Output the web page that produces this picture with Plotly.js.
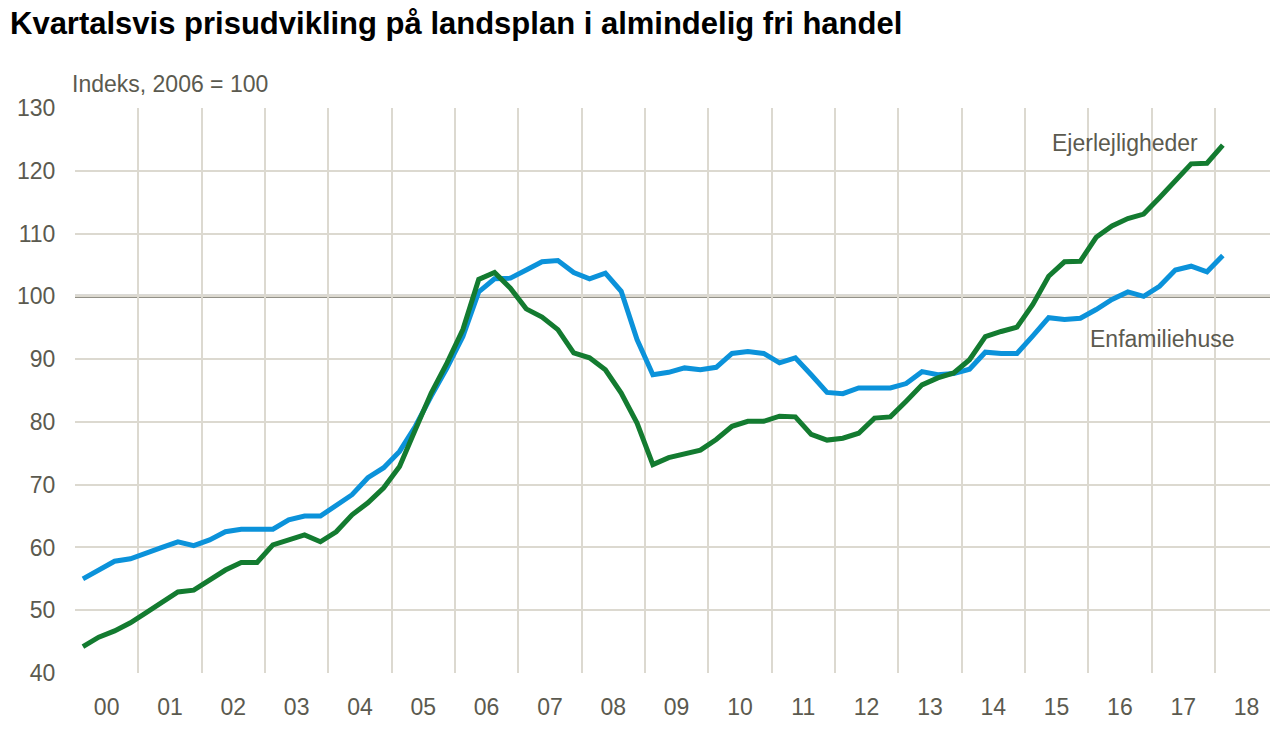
<!DOCTYPE html>
<html>
<head>
<meta charset="utf-8">
<script src="https://cdn.plot.ly/plotly-3.0.1.min.js"></script>
<style>
html,body{margin:0;padding:0;background:#fff;}
#chart{width:1270px;height:733px;}
</style>
</head>
<body>
<div id="chart"></div>
<script>
// Quarterly periods 2000Q1 .. 2018Q1
const years = [2000,2001,2002,2003,2004,2005,2006,2007,2008,2009,2010,2011,2012,2013,2014,2015,2016,2017,2018];
const yearLabels = ["00","01","02","03","04","05","06","07","08","09","10","11","12","13","14","15","16","17","18"];
const quartersPerYear = [1,2,3,4];

// Enfamiliehuse (index 2006 = 100)
const enfamiliehuse = [
  55.0, 56.5, 57.8, 58.2,
  59.2, 60.0, 60.9, 60.3,
  61.2, 62.5, 62.9, 62.9,
  62.9, 64.4, 65.0, 65.0,
  66.7, 68.4, 71.1, 72.7,
  75.3, 79.3, 84.1, 88.6,
  93.6, 100.7, 102.8, 102.9,
  104.2, 105.5, 105.7, 103.8,
  102.8, 103.7, 100.8, 93.1,
  87.5, 87.9, 88.6, 88.3,
  88.7, 90.9, 91.2, 90.9,
  89.4, 90.2, 87.5, 84.7,
  84.5, 85.4, 85.4, 85.4,
  86.1, 88.0, 87.5, 87.7,
  88.4, 91.1, 90.9, 90.9,
  93.7, 96.6, 96.3, 96.5,
  97.9, 99.5, 100.7, 100.0,
  101.6, 104.2, 104.8, 103.9,
  106.5
];

// Ejerlejligheder (index 2006 = 100)
const ejerlejligheder = [
  44.2, 45.7, 46.7, 48.0,
  49.6, 51.3, 52.9, 53.2,
  54.8, 56.4, 57.6, 57.6,
  60.4, 61.2, 62.0, 60.9,
  62.5, 65.2, 67.1, 69.5,
  72.9, 78.8, 84.6, 89.4,
  94.7, 102.7, 103.8, 101.3,
  98.0, 96.7, 94.7, 91.0,
  90.2, 88.3, 84.6, 79.8,
  73.2, 74.3, 74.8, 75.5,
  77.2, 79.3, 80.1, 80.1,
  80.9, 80.8, 78.0, 77.1,
  77.4, 78.2, 80.6, 80.8,
  83.3, 85.9, 87.0, 87.8,
  89.9, 93.6, 94.4, 95.1,
  98.7, 103.2, 105.5, 105.6,
  109.4, 111.2, 112.4, 113.1,
  115.7, 118.4, 121.1, 121.2,
  124.1
];

// x positions: middle of each quarter
const xq = [];
for (const y of years) {
  for (const q of quartersPerYear) {
    if (xq.length < enfamiliehuse.length) xq.push(y + (q - 0.5) / 4);
  }
}
const midYears = years.map(y => y + 0.5);

const font = '"Liberation Sans", Arial, sans-serif';
const textGray = '#5b5a4f';
const gridCol = '#dcd9d0';

const traces = [
  {x: xq, y: enfamiliehuse, type: 'scatter', mode: 'lines', name: 'Enfamiliehuse',
   line: {color: '#0b92da', width: 5}, hoverinfo: 'x+y'},
  {x: xq, y: ejerlejligheder, type: 'scatter', mode: 'lines', name: 'Ejerlejligheder',
   line: {color: '#137b30', width: 5}, hoverinfo: 'x+y'}
];

const layout = {
  width: 1270, height: 733,
  margin: {l: 75, r: 0, t: 108, b: 60},
  paper_bgcolor: '#ffffff', plot_bgcolor: '#ffffff',
  showlegend: false,
  title: {
    text: 'Kvartalsvis prisudvikling på landsplan i almindelig fri handel',
    font: {family: font, size: 31, color: '#000000', weight: 'bold'},
    xref: 'container', yref: 'container', x: 10/1270, xanchor: 'left', y: 1 - 23/733, yanchor: 'middle'
  },
  xaxis: {
    range: [2000, 2018.87],
    tickmode: 'array', tickvals: midYears, ticktext: yearLabels,
    showgrid: false, zeroline: false, showline: false,
    ticks: 'outside', ticklen: 13, tickcolor: 'rgba(0,0,0,0)',
    tickfont: {family: font, size: 23, color: textGray},
    minor: {tickmode: 'array', tickvals: years, showgrid: true, gridcolor: gridCol, gridwidth: 2, ticklen: 0},
    fixedrange: true
  },
  yaxis: {
    range: [40, 130],
    tickmode: 'array', tickvals: [40,50,60,70,80,90,100,110,120,130],
    showgrid: true, gridcolor: gridCol, gridwidth: 2,
    zeroline: false, showline: false,
    ticks: 'outside', ticklen: 14, tickcolor: 'rgba(0,0,0,0)',
    tickfont: {family: font, size: 23, color: textGray},
    fixedrange: true
  },
  shapes: [
    {type: 'line', xref: 'paper', x0: 0, x1: 1, yref: 'y', y0: 100, y1: 100,
     line: {color: '#6f6c60', width: 3}, layer: 'between'}
  ],
  annotations: [
    {text: 'Indeks, 2006 = 100', xref: 'paper', yref: 'paper', x: -5/1195, y: 1 + 24/565,
     xanchor: 'left', yanchor: 'middle', showarrow: false,
     font: {family: font, size: 23, color: textGray}},
    {text: 'Ejerlejligheder', xref: 'x', yref: 'y', x: 2016.58, y: 124.4,
     xanchor: 'center', yanchor: 'middle', showarrow: false,
     font: {family: font, size: 23, color: textGray}},
    {text: 'Enfamiliehuse', xref: 'x', yref: 'y', x: 2017.16, y: 93.2,
     xanchor: 'center', yanchor: 'middle', showarrow: false,
     font: {family: font, size: 23, color: textGray}}
  ]
};

Plotly.newPlot('chart', traces, layout, {displayModeBar: false, staticPlot: true});
</script>
</body>
</html>
